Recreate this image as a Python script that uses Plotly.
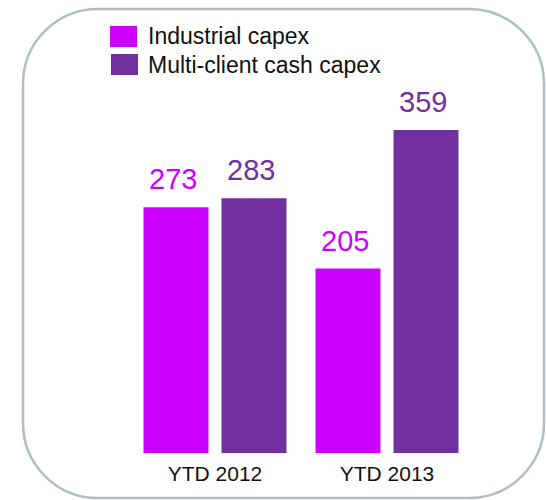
import plotly.graph_objects as go

# ---- data ----
categories = ["YTD 2012", "YTD 2013"]
series_names = ["Industrial capex", "Multi-client cash capex"]
industrial = [273, 205]
multiclient = [283, 359]
series_values = [industrial, multiclient]
colors = ["#CC00FF", "#7030A0"]

W, H = 546, 500
FONT = "Liberation Sans, Arial, sans-serif"


def px(x):
    return x / W


def py(y):
    return 1 - y / H


fig = go.Figure()
for name, vals, col in zip(series_names, series_values, colors):
    fig.add_trace(go.Bar(
        x=categories, y=vals, name=name,
        marker=dict(color=col, line=dict(width=0)),
        showlegend=False, hoverinfo="x+y+name",
    ))

# value labels above bars
annotations = []
offsets = [-39, 39]
for vals, col, off in zip(series_values, colors, offsets):
    for c, v in zip(categories, vals):
        annotations.append(dict(
            x=c, y=v, xref="x", yref="y", text=str(v), showarrow=False,
            xshift=off - 3, yshift=10, yanchor="bottom", xanchor="center",
            font=dict(family=FONT, size=29, color=col),
        ))

# manual legend
shapes = []
leg_rows = [(26, 47, 110), (54, 75, 111)]
for (y0, y1, x0), name, col in zip(leg_rows, series_names, colors):
    shapes.append(dict(type="rect", xref="paper", yref="paper",
                       x0=px(x0), x1=px(x0 + 27), y0=py(y1), y1=py(y0),
                       fillcolor=col, line=dict(width=0)))
    annotations.append(dict(
        x=px(146), y=py((y0 + y1) / 2), xref="paper", yref="paper",
        text=name, showarrow=False, xanchor="left", yanchor="middle",
        font=dict(family=FONT, size=23, color="#111111"),
    ))

# rounded border
L, T, R, B, r = 23, 9, 544, 498, 75
k = 0.5523 * r


def P(x, y):
    return f"{px(x):.5f},{py(y):.5f}"


path = (
    f"M{P(L + r, T)} L{P(R - r, T)} "
    f"C{P(R - r + k, T)} {P(R, T + r - k)} {P(R, T + r)} "
    f"L{P(R, B - r)} "
    f"C{P(R, B - r + k)} {P(R - r + k, B)} {P(R - r, B)} "
    f"L{P(L + r, B)} "
    f"C{P(L + r - k, B)} {P(L, B - r + k)} {P(L, B - r)} "
    f"L{P(L, T + r)} "
    f"C{P(L, T + r - k)} {P(L + r - k, T)} {P(L + r, T)} Z"
)
shapes.append(dict(type="path", xref="paper", yref="paper", path=path,
                   line=dict(color="#B4BCC4", width=2.5), layer="below"))

fig.update_layout(
    width=W, height=H,
    margin=dict(l=0, r=0, t=0, b=0),
    paper_bgcolor="white", plot_bgcolor="white",
    barmode="group", bargap=0.093, bargroupgap=0.167,
    font=dict(family=FONT),
    xaxis=dict(domain=[px(129), px(473)], showline=False, showgrid=False,
               zeroline=False, ticks="", ticklabelstandoff=6,
               tickfont=dict(family=FONT, size=21, color="#111111"),
               fixedrange=True),
    yaxis=dict(domain=[py(453), py(100)], range=[0, 353 / 0.9], visible=False,
               fixedrange=True),
    shapes=shapes, annotations=annotations,
)

fig.write_html("out.html", config={"displayModeBar": False})
